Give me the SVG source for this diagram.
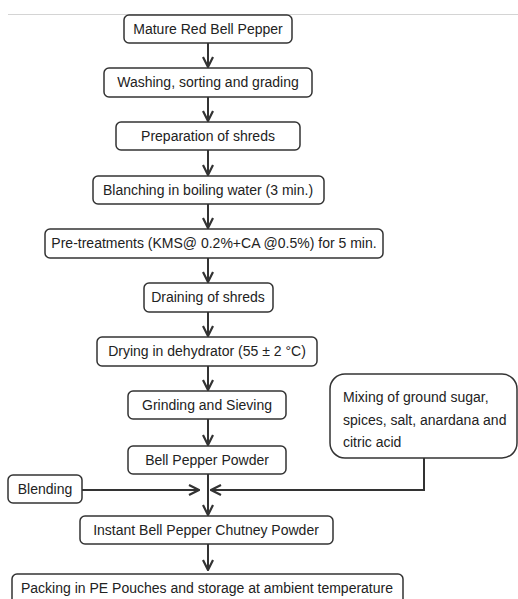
<svg xmlns="http://www.w3.org/2000/svg" width="518" height="599" viewBox="0 0 518 599">
<defs>
<style>
.b{fill:#fff;stroke:#333;stroke-width:1.5}
.t{font-family:"Liberation Sans",Arial,sans-serif;font-size:14px;fill:#222;text-anchor:middle}
.tl{font-family:"Liberation Sans",Arial,sans-serif;font-size:14px;fill:#222}
.c{fill:none;stroke:#333;stroke-width:2}
</style>
<marker id="ah" viewBox="0 0 12 12" refX="11" refY="6" markerWidth="12" markerHeight="12" markerUnits="userSpaceOnUse" orient="auto">
<path d="M1,1 L11,6 L1,11" fill="none" stroke="#333" stroke-width="2.2"/>
</marker>
</defs>
<rect width="518" height="599" fill="#fff"/>
<line x1="8" y1="14.5" x2="518" y2="14.5" stroke="#d4d4d4" stroke-width="1"/>
<g id="connectors">
<line class="c" x1="208" y1="43" x2="208" y2="67" marker-end="url(#ah)"/>
<line class="c" x1="208" y1="97" x2="208" y2="121" marker-end="url(#ah)"/>
<line class="c" x1="208" y1="150" x2="208" y2="175" marker-end="url(#ah)"/>
<line class="c" x1="208" y1="204" x2="208" y2="228" marker-end="url(#ah)"/>
<line class="c" x1="208" y1="258" x2="208" y2="282" marker-end="url(#ah)"/>
<line class="c" x1="208" y1="312" x2="208" y2="336" marker-end="url(#ah)"/>
<line class="c" x1="208" y1="366" x2="208" y2="390" marker-end="url(#ah)"/>
<line class="c" x1="208" y1="419" x2="208" y2="445" marker-end="url(#ah)"/>
<line class="c" x1="208" y1="474" x2="208" y2="515" marker-end="url(#ah)"/>
<line class="c" x1="82" y1="490" x2="199" y2="490" marker-end="url(#ah)"/>
<polyline class="c" points="424,458 424,490 211,490" marker-end="url(#ah)"/>
<line class="c" x1="208" y1="544" x2="208" y2="570" marker-end="url(#ah)"/>
</g>
<g id="n1"><rect class="b" x="124" y="15" width="168" height="28" rx="5"/><text class="t" x="208" y="34">Mature Red Bell Pepper</text></g>
<g id="n2"><rect class="b" x="104" y="68" width="208" height="29" rx="5"/><text class="t" x="208" y="87">Washing, sorting and grading</text></g>
<g id="n3"><rect class="b" x="116" y="122" width="184" height="28" rx="5"/><text class="t" x="208" y="141">Preparation of shreds</text></g>
<g id="n4"><rect class="b" x="93" y="176" width="231" height="28" rx="5"/><text class="t" x="208" y="195">Blanching in boiling water (3 min.)</text></g>
<g id="n5"><rect class="b" x="45" y="229" width="338" height="29" rx="5"/><text class="t" x="214" y="248">Pre-treatments (KMS@ 0.2%+CA @0.5%) for 5 min.</text></g>
<g id="n6"><rect class="b" x="144" y="283" width="129" height="29" rx="5"/><text class="t" x="208" y="302">Draining of shreds</text></g>
<g id="n7"><rect class="b" x="97" y="337" width="220" height="29" rx="5"/><text class="t" x="207" y="356">Drying in dehydrator (55 ± 2 °C)</text></g>
<g id="n8"><rect class="b" x="128" y="391" width="158" height="28" rx="5"/><text class="t" x="207" y="410">Grinding and Sieving</text></g>
<g id="n9"><rect class="b" x="330" y="374" width="187" height="84" rx="15"/><text class="tl" x="343" y="402">Mixing of ground sugar,</text><text class="tl" x="343" y="425">spices, salt, anardana and</text><text class="tl" x="343" y="447">citric acid</text></g>
<g id="n10"><rect class="b" x="128" y="446" width="158" height="28" rx="5"/><text class="t" x="207" y="465">Bell Pepper Powder</text></g>
<g id="n11"><rect class="b" x="8" y="475" width="74" height="28" rx="5"/><text class="t" x="45" y="494">Blending</text></g>
<g id="n12"><rect class="b" x="80" y="516" width="253" height="28" rx="5"/><text class="t" x="206" y="535">Instant Bell Pepper Chutney Powder</text></g>
<g id="n13"><rect class="b" x="12" y="574" width="391" height="40" rx="5"/><text class="t" x="207" y="593">Packing in PE Pouches and storage at ambient temperature</text></g>
</svg>
